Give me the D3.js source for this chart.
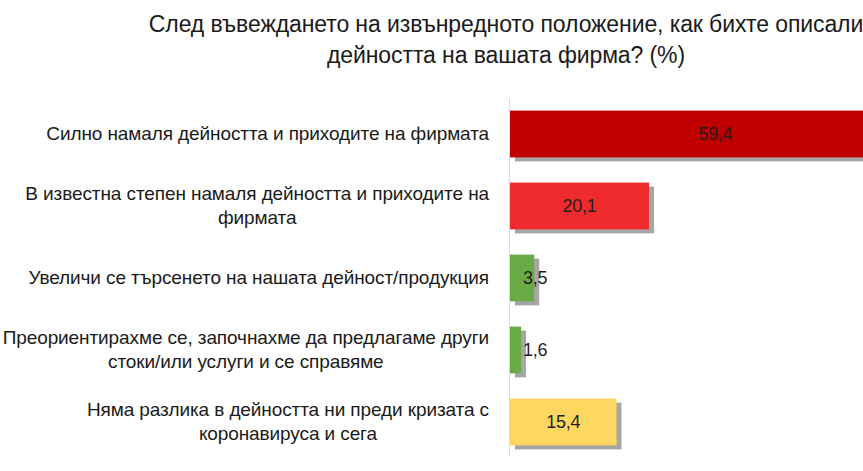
<!DOCTYPE html>
<html>
<head>
<meta charset="utf-8">
<script src="https://cdn.jsdelivr.net/npm/d3@7"></script>
<style>
  body { margin: 0; background: #fff; overflow: hidden; }
</style>
</head>
<body>
<div id="chart"></div>
<script>
const titleLines = [
  'След въвеждането на извънредното положение, как бихте описали',
  'дейността на вашата фирма? (%)'
];

const categories = [
  ['Силно намаля дейността и приходите на фирмата'],
  ['В известна степен намаля дейността и приходите на', 'фирмата'],
  ['Увеличи се търсенето на нашата дейност/продукция'],
  ['Преориентирахме се, започнахме да предлагаме други', 'стоки/или услуги и се справяме'],
  ['Няма разлика в дейността ни преди кризата с', 'коронавируса и сега']
];

const values = [59.4, 20.1, 3.5, 1.6, 15.4];
const colors = ['#c00000', '#ef2b2d', '#6aaa45', '#6aaa45', '#ffd760'];

const width = 863,
  height = 471;
const margin = { top: 98, bottom: 13, left: 510 };

let svg = d3
  .select('#chart')
  .append('svg')
  .attr('width', width)
  .attr('height', height);

// title
svg
  .append('g')
  .selectAll('text')
  .data(titleLines)
  .join('text')
  .attr('x', 506)
  .attr('y', (d, i) => 32 + i * 31)
  .attr('text-anchor', 'middle')
  .attr('font-family', "'Liberation Sans', Arial, sans-serif")
  .attr('font-size', 23)
  .attr('letter-spacing', -0.1)
  .attr('fill', '#1a1a1a')
  .text((d) => d);

let xScale = d3
  .scaleLinear()
  .domain([0, 60])
  .range([margin.left, margin.left + 415]);

let yScale = d3
  .scaleBand()
  .domain(d3.range(values.length))
  .range([margin.top, height - margin.bottom])
  .paddingInner(0.35)
  .paddingOuter(0.175);

// shadows
svg
  .append('g')
  .selectAll('rect')
  .data(values)
  .join('rect')
  .attr('x', xScale(0) + 5)
  .attr('y', (d, i) => yScale(i) + 4)
  .attr('width', (d) => xScale(d) - xScale(0))
  .attr('height', yScale.bandwidth())
  .attr('fill', '#a6a6a6');

// bars
svg
  .append('g')
  .selectAll('rect')
  .data(values)
  .join('rect')
  .attr('x', xScale(0))
  .attr('y', (d, i) => yScale(i))
  .attr('width', (d) => xScale(d) - xScale(0))
  .attr('height', yScale.bandwidth())
  .attr('fill', (d, i) => colors[i]);

// axis line
svg
  .append('line')
  .attr('x1', xScale(0) - 0.5)
  .attr('x2', xScale(0) - 0.5)
  .attr('y1', margin.top)
  .attr('y2', height - margin.bottom - 3)
  .attr('stroke', '#d9d9d9')
  .attr('stroke-width', 1);

// value labels
let vals = svg
  .append('g')
  .selectAll('text')
  .data(values)
  .join('text')
  .attr('y', (d, i) => yScale(i) + yScale.bandwidth() / 2 + 6)
  .attr('text-anchor', 'middle')
  .attr('font-family', "'Liberation Sans', Arial, sans-serif")
  .attr('font-size', 18)
  .attr('letter-spacing', -0.3)
  .attr('fill', '#1f1f1f')
  .text((d) => d.toFixed(1).replace('.', ','));

vals.attr('x', function (d) {
  let w = this.getComputedTextLength();
  let center = (xScale(0) + xScale(d)) / 2;
  return Math.max(center, xScale(0) + 13 + w / 2);
});

// category labels
let labels = svg
  .append('g')
  .selectAll('text')
  .data(categories)
  .join('text')
  .attr('text-anchor', 'middle')
  .attr('font-family', "'Liberation Sans', Arial, sans-serif")
  .attr('font-size', 19)
  .attr('letter-spacing', -0.1)
  .attr('fill', '#1a1a1a');

labels.each(function (lines, i) {
  let g = d3.select(this);
  let cy = yScale(i) + yScale.bandwidth() / 2;
  let spans = g
    .selectAll('tspan')
    .data(lines)
    .join('tspan')
    .attr('y', (d, j) => cy + 6 + (j - (lines.length - 1) / 2) * 24)
    .text((d) => d);
  let maxW = 0;
  spans.each(function () {
    maxW = Math.max(maxW, this.getComputedTextLength());
  });
  spans.attr('x', xScale(0) - 21 - maxW / 2);
});
</script>
</body>
</html>
